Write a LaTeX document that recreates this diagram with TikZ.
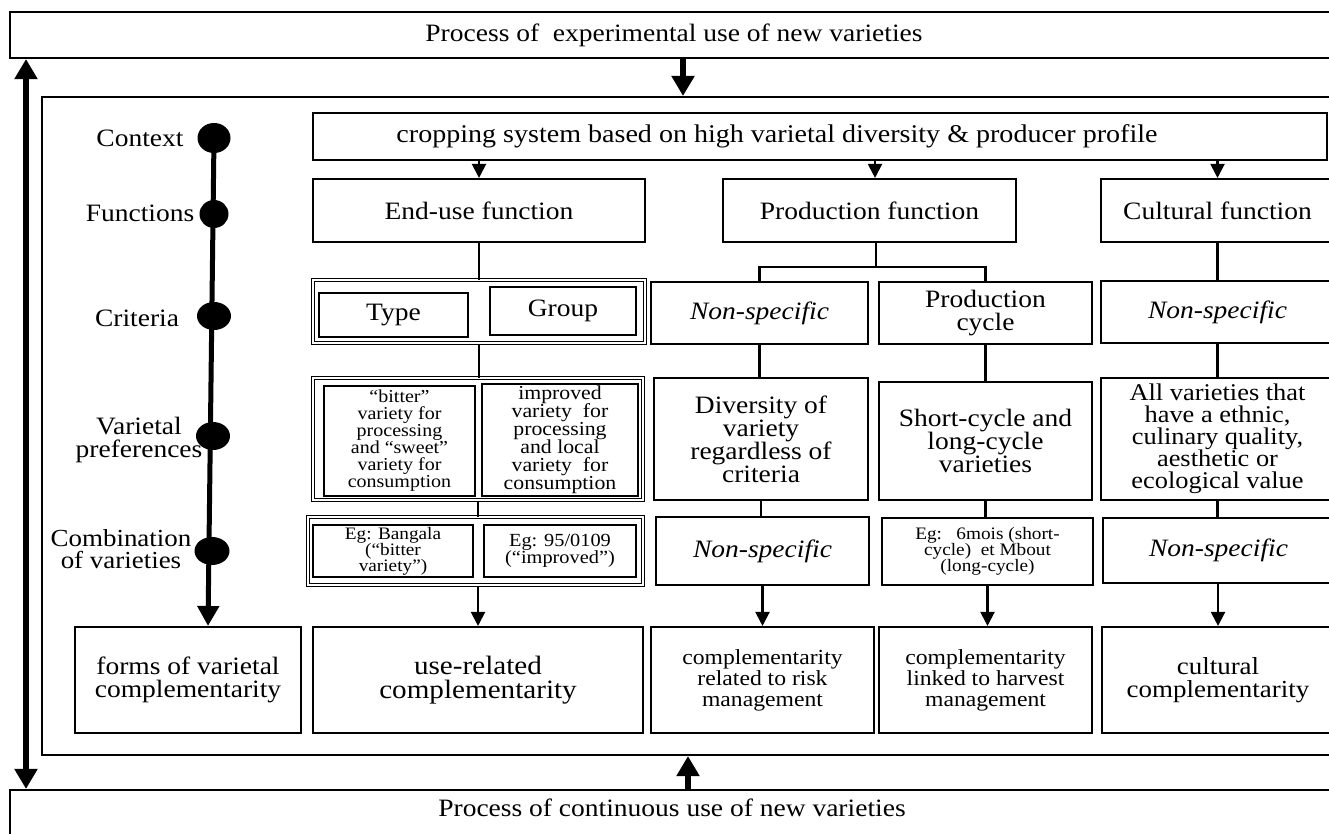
\documentclass[tikz,border=0pt]{standalone}
\usepackage{fontspec}
\setmainfont{Liberation Serif}[FakeStretch=1.1]
\usetikzlibrary{arrows.meta,shapes.geometric}
\newcommand{\setfs}[2]{\fontsize{#1}{#2}\selectfont\lineskiplimit=-100pt\lineskip=0pt\relax}
\begin{document}
\begin{tikzpicture}[x=1pt,y=-1pt,
  every node/.style={inner sep=0pt},
  box/.style={draw, line width=2.1pt, align=center, font=\setfs{25}{23}},
  dbox/.style={draw, line width=1pt, double, double distance=1.6pt},
  wh/.style 2 args={minimum width=#1pt, minimum height=#2pt},
  lab/.style={align=center, font=\setfs{25}{22}},
  dot/.style={ellipse, fill=black, draw=none},
  ln/.style={line width=2.1pt},
  arr/.style={line width=2.1pt, -{Triangle[width=14pt,length=14pt]}},
  bigarr/.style={line width=6pt, -{Triangle[width=22pt,length=20pt]}},
  bigdarr/.style={line width=6pt, {Triangle[width=22pt,length=20pt]}-{Triangle[width=22pt,length=20pt]}},
  it/.style={font=\setfs{25}{22}\itshape},
]
\useasboundingbox (0,0) rectangle (1329,834);
\fill[white] (0,0) rectangle (1329,834);
\clip (0,0) rectangle (1329,834);

% outer frames
\node[box, wh={1328}{46}] (top) at (674,35) {Process of~ experimental use of new varieties};
\node[draw, line width=2.1pt, wh={1298}{658}] (frame) at (691,426) {};
\node[draw, line width=2.1pt, wh={1324}{70}] (bot) at (672,825) {};
\node[lab] (bottxt) at (672,808) {Process of continuous use of new varieties};

\coordinate (xL) at (26,0);
\coordinate (xT) at (683,0);
\coordinate (xB) at (688,0);
\coordinate (xM) at (208,0);
\coordinate (xP) at (875,0);
\coordinate (jn) at (876,267);

\draw[bigdarr] (top.south -| xL) -- (bot.north -| xL);
\draw[bigarr] (top.south -| xT) -- (frame.north -| xT);
\draw[bigarr] (bot.north -| xB) -- (frame.south -| xB);

% context
\node[draw, line width=2.1pt, wh={1014}{47}] (crop) at (820,136.5) {};
\node[lab, font=\setfs{25.5}{22}] (croptxt) at (777,136) {cropping system based on high varietal diversity \& producer profile};

% functions
\node[box, wh={332}{63}] (enduse) at (479,210.5) {End-use function};
\node[box, wh={293}{63}] (prodfn) at (869.5,210.5) {Production function};
\node[box, wh={233}{63}] (cultfn) at (1217.5,210.5) {Cultural function};

\draw[arr] (enduse.north |- crop.south) -- (enduse.north);
\draw[arr] (crop.south -| xP) -- (prodfn.north -| xP);
\draw[arr] (cultfn.north |- crop.south) -- (cultfn.north);

% criteria
\node[dbox, wh={332}{63}] (crit) at (479,311.5) {};
\node[box, line width=2.4pt, wh={149}{44}] (type) at (393.5,315) {Type};
\node[box, line width=2.4pt, wh={146}{48}] (group) at (563,311) {Group};
\node[box, it, wh={217}{62}] (ns1) at (759.5,313) {Non-specific};
\node[box, wh={213}{62}] (pcyc) at (985.5,313) {Production\\cycle};
\node[box, it, wh={233}{62}] (ns2) at (1217.5,312) {Non-specific};

% preferences
\node[dbox, wh={330}{122}] (pref) at (478,439) {};
\node[box, wh={151}{110}, font=\setfs{18.2}{17}] (prefL) at (399.5,441) {“bitter”\\variety for\\processing\\and “sweet”\\variety for\\consumption};
\node[box, wh={156}{112}, font=\setfs{19.8}{18}] (prefR) at (560,440) {improved\\variety\ \ for\\processing\\and local\\variety\ \ for\\consumption};
\node[box, wh={214}{122}] (div) at (761,439) {Diversity of\\variety\\regardless of\\criteria};
\node[box, wh={213}{118}] (scyc) at (985.5,441) {Short-cycle and\\long-cycle\\varieties};
\node[box, wh={233}{122}, font=\setfs{24}{22}] (allv) at (1217.5,439) {All varieties that\\have a ethnic,\\culinary quality,\\aesthetic or\\ecological value};

% combinations
\node[dbox, wh={335}{68}] (comb) at (475.5,551) {};
\node[box, wh={160}{52}, font=\setfs{17.5}{16}] (combL) at (393,551) {Eg: Bangala\\(“bitter\\variety”)};
\node[box, wh={152}{52}, font=\setfs{18.5}{16.5}] (combR) at (560,551) {Eg: 95/0109\\(“improved”)};
\node[box, it, wh={213}{68}] (ns3) at (762.5,551) {Non-specific};
\node[box, wh={211}{67}, font=\setfs{17.5}{16}] (eg6) at (987.5,551.5) {Eg:\ \ \ 6mois (short-\\cycle)\ \ et Mbout\\(long-cycle)};
\node[box, it, wh={231}{65}] (ns4) at (1218.5,550.5) {Non-specific};

% complementarity
\node[box, wh={226}{106}] (forms) at (188,680) {forms of varietal\\complementarity};
\node[box, wh={330}{106}, font=\setfs{26.5}{24}] (userel) at (478,680) {use-related\\complementarity};
\node[box, wh={223}{106}, font=\setfs{21.5}{21}] (risk) at (762.5,680) {complementarity\\related to risk\\management};
\node[box, wh={213}{106}, font=\setfs{21.5}{21}] (harv) at (985.5,680) {complementarity\\linked to harvest\\management};
\node[box, wh={232}{106}, font=\setfs{24.5}{23}] (cultc) at (1218,680) {cultural\\complementarity};

% connectors
\draw[ln] (enduse.south) -- (enduse.south |- crit.north);
\draw[ln] (crit.south) -- (crit.south |- pref.north);
\draw[ln] (pref.south) -- (pref.south |- comb.north);
\draw[arr] (userel.north |- comb.south) -- (userel.north);

\draw[ln] (prodfn.south -| jn) -- (jn);
\draw[ln] (ns1.north) |- (jn) -| (pcyc.north);
\draw[ln] (ns1.south) -- (ns1.south |- div.north);
\draw[ln] (pcyc.south) -- (pcyc.south |- scyc.north);
\draw[ln] (div.south) -- (div.south |- ns3.north);
\draw[ln] (scyc.south) -- (scyc.south |- eg6.north);
\draw[arr] (ns3.south) -- (ns3.south |- risk.north);
\draw[arr] (eg6.south) -- (eg6.south |- harv.north);

\draw[ln] (cultfn.south) -- (cultfn.south |- ns2.north);
\draw[ln] (ns2.south) -- (ns2.south |- allv.north);
\draw[ln] (allv.south) -- (allv.south |- ns4.north);
\draw[arr] (ns4.south -| cultc) -- (cultc.north);

% timeline
\node[dot, wh={33}{30}] (d1) at (214,138) {};
\node[dot, wh={29}{28}] (d2) at (214,214) {};
\node[dot, wh={34}{28}] (d3) at (214,316) {};
\node[dot, wh={34}{28}] (d4) at (213,436) {};
\node[dot, wh={35}{28}] (d5) at (212,551) {};
\draw[line width=5pt, -{Triangle[width=21pt,length=20pt]}] (d1.center) -- (forms.north -| xM);

\node[lab] (lctx) at (140,138) {Context};
\node[lab] (lfun) at (140,213) {Functions};
\node[lab] (lcrit) at (137,318) {Criteria};
\node[lab, font=\setfs{25}{23}] (lpref) at (139,440) {Varietal\\preferences};
\node[lab, font=\setfs{24.5}{22}] (lcomb) at (121,549) {Combination\\of varieties};
\end{tikzpicture}
\end{document}
